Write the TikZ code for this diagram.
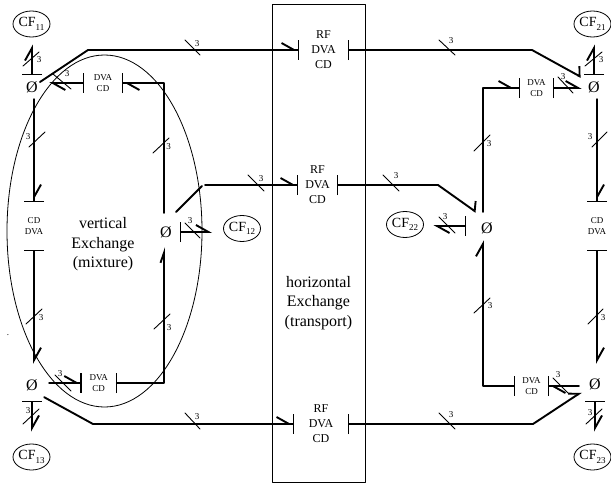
\documentclass[tikz,border=0pt]{standalone}
\usepackage{fontspec}
\setmainfont{Liberation Serif}
\usetikzlibrary{arrows.meta}
\usetikzlibrary{shapes.geometric}

\newcommand{\cfsub}[1]{\raisebox{-3.5pt}{\fontsize{9}{10}\selectfont #1}}

\tikzset{
  barbl/.tip={Straight Barb[left,length=12.5pt,width=14pt]},
  endbar/.tip={Bar[width=20pt,line width=1.1pt]},
  barbbar/.tip={Straight Barb[left,length=12.5pt,width=14pt,sep=0pt]Bar[width=20pt,line width=1.1pt]}
}

\begin{document}
\begin{tikzpicture}[line cap=round,line join=round,x=1pt,y=-1pt,
  bus/.style={line width=1.9pt},
  slash/.style={line width=0.9pt},
  busnum/.style={font=\fontsize{9}{10}\selectfont,inner sep=0pt},
  phinode/.style={font=\fontsize{16}{18}\selectfont,minimum size=24pt,inner sep=0pt},
  cfnode/.style={draw,ellipse,line width=0.8pt,font=\fontsize{14}{16}\selectfont,minimum width=37pt,minimum height=26pt,inner sep=0pt},
  rfnode/.style={font=\fontsize{12}{15}\selectfont,align=center,inner sep=0pt},
  dvanode/.style={font=\fontsize{9}{11}\selectfont,align=center,inner sep=0pt},
  capnode/.style={font=\fontsize{16}{19.5}\selectfont,align=center,inner sep=0pt}]
\useasboundingbox (0,0) rectangle (611,483);

\draw [line width=0.9pt] (272,4) rectangle (365,482);
\draw [line width=0.8pt] (104.5,231) ellipse (97.5 and 176);

\node [capnode] (vertcap) at (103,244.5) {vertical\\Exchange\\(mixture)};
\node [capnode] (horicap) at (318.5,303) {horizontal\\Exchange\\(transport)};
\node [font=\fontsize{9}{10}\selectfont,inner sep=0pt] (spot) at (8,335) {.};

\node [phinode] (ph11) at (32,87) {Ø};
\node [phinode] (ph12) at (166,232) {Ø};
\node [phinode] (ph13) at (32,385) {Ø};
\node [phinode] (ph21) at (594,87) {Ø};
\node [phinode] (ph22) at (487,228) {Ø};
\node [phinode] (ph23) at (595,384) {Ø};

\node [cfnode] (cf11) at (31.5,24) {CF\cfsub{11}};
\node [cfnode] (cf12) at (242,228.5) {CF\cfsub{12}};
\node [cfnode] (cf13) at (31.5,457) {CF\cfsub{13}};
\node [cfnode] (cf21) at (592.5,24) {CF\cfsub{21}};
\node [cfnode] (cf22) at (405,224.5) {CF\cfsub{22}};
\node [cfnode] (cf23) at (592.5,457) {CF\cfsub{23}};

\node [rfnode,minimum width=49pt] (rftop) at (323.5,50) {RF\\DVA\\CD};
\node [rfnode,minimum width=39pt] (rfmid) at (317.5,185) {RF\\DVA\\CD};
\node [rfnode,minimum width=54pt] (rfbot) at (321,424) {RF\\DVA\\CD};

\node [dvanode,minimum width=38pt] (dva11) at (103,83) {DVA\\CD};
\node [dvanode,minimum width=34pt] (dva13) at (98.7,383) {DVA\\CD};
\node [dvanode,minimum width=33pt] (dva21) at (536.5,88) {DVA\\CD};
\node [dvanode,minimum width=33pt] (dva23) at (531.5,386) {DVA\\CD};
\node [dvanode,minimum height=48pt] (cd1) at (34,226) {CD\\DVA};
\node [dvanode,minimum height=48pt] (cd2) at (597,226) {CD\\DVA};

\coordinate (s11) at (40,82);
\coordinate (c11) at (88,50);
\coordinate (b11) at (164,83);
\coordinate (b13) at (164,383);
\coordinate (c13) at (93,424);
\coordinate (s12) at (176,212);
\coordinate (c12) at (202,186);
\coordinate (d12) at (205,185);
\coordinate (c21) at (532,50);
\coordinate (e21) at (581,77);
\coordinate (c22) at (438,185);
\coordinate (e22) at (476,212);
\coordinate (c23) at (533,424);
\coordinate (e23) at (581.5,392);
\coordinate (b21) at (483,88);
\coordinate (b23) at (483,386);
\coordinate (s22) at (466,226);

%left column
\draw [bus,{endbar}-{barbl}] (ph11.north) -- (ph11.north |- cf11.south) [shorten >=7pt];
\draw [bus,-{barbbar}] (cd1.north |- ph11.south) -- (cd1.north);
\draw [bus,{endbar}-{barbl},shorten >=9pt] (cd1.south) -- (cd1.south |- ph13.north);
\draw [bus,{endbar}-{barbl},shorten <=4pt,shorten >=12pt] (ph13.south) -- (ph13.south |- cf13.north);
\draw [bus,{endbar}-{barbl},shorten >=5pt] (dva11.west) -- (ph11.east |- dva11.west);
\draw [bus,-{barbbar},shorten <=5pt] (ph13.east |- dva13.west) -- (dva13.west);
\draw [bus,{endbar}-{barbl[width=7pt,length=10pt]},shorten >=3pt] (dva13.east) -- (b13) -- (b13 |- ph12.south);
\draw [bus,-{barbbar},shorten <=7pt] (b13 |- ph12.north) -- (b11) -- (dva11.east);
\draw [bus,{endbar}-{barbl},shorten <=2pt,shorten >=11pt] (ph12.east) -- (ph12.east -| cf12.west);

%middle rows
\draw [bus,-{barbbar}] (s11) -- (c11) -- (rftop.west);
\draw [bus] (s12) -- (c12);
\draw [bus,-{barbbar}] (d12) -- (rfmid.west);
\draw [bus,-{barbbar}] (ph13.south east) -- (c13) -- (rfbot.west);
\draw [bus,{endbar}-{Straight Barb[left,length=5pt,width=17.5pt]}] (rftop.east) -- (c21) -- (e21);
\draw [bus,{endbar}-{Straight Barb[left,length=5pt,width=17.5pt]}] (rfmid.east) -- (c22) -- (e22);
\draw [bus,{endbar}-{Straight Barb[left,length=9pt,width=12pt]}] (rfbot.east) -- (c23) -- (e23);

%right column
\draw [bus,{endbar}-{barbl}] (ph21.north) -- (ph21.north |- cf21.south) [shorten >=7pt];
\draw [bus,-{barbbar}] (cd2.north |- ph21.south) -- (cd2.north);
\draw [bus,{endbar}-{barbl},shorten >=8pt] (cd2.south) -- (cd2.south |- ph23.north);
\draw [bus,{endbar}-{barbl},shorten <=5pt,shorten >=12pt] (ph23.south) -- (ph23.south |- cf23.north);
\draw [bus,{endbar}-{barbl}] (dva21.east) -- (ph21.west |- dva21.east);
\draw [bus,-{Straight Barb[left,length=12.5pt,width=14pt,sep=4pt]Bar[width=20pt,line width=1.1pt]},shorten <=4pt] (b21 |- ph22.north) -- (b21) -- (dva21.west);
\draw [bus,-{barbbar},shorten <=4pt] (ph23.west |- dva23.east) -- (dva23.east);
\draw [bus,{endbar}-{barbl}] (dva23.west) -- (b23) -- (b23 |- ph22.south);
\draw [bus,{endbar}-{barbl},shorten >=9.5pt] (s22) -- (s22 -| cf22.east);

%slashes with the bus width
\foreach \xa/\ya/\xb/\yb/\xl/\yl [count=\i] in {
  23/66/39/52/39/60, 29/147/45/132/28/137, 26/324/42/309/41/318,
  55/375/71/391/60/374, 154/329/170/314/169/328, 23/424/39/409/28/411,
  185/413/200/429/197/417, 185/40/200/55/197/44, 248/175/264/191/261/179,
  153/153/169/138/168.5/147, 53/74/71/89/67/74, 185/223/200/238/190/221,
  439/40/455/55/451/41, 383/175/399/191/396/176, 439/413/455/429/451/415,
  585/66/602/52/601/60, 592/147/607/132/590/137, 588/324/603/309/603/318,
  558/77/573/93/563/77, 474/151/490/135/489/144, 474/313/490/298/490/306,
  439/217/455/233/445/217, 553/378/568/393/558/375, 586/424/602/409/590/413}
{
  \draw [slash] (\xa,\ya) -- (\xb,\yb);
  \node [busnum] (num\i) at (\xl,\yl) {3};
}
\end{tikzpicture}
\end{document}
